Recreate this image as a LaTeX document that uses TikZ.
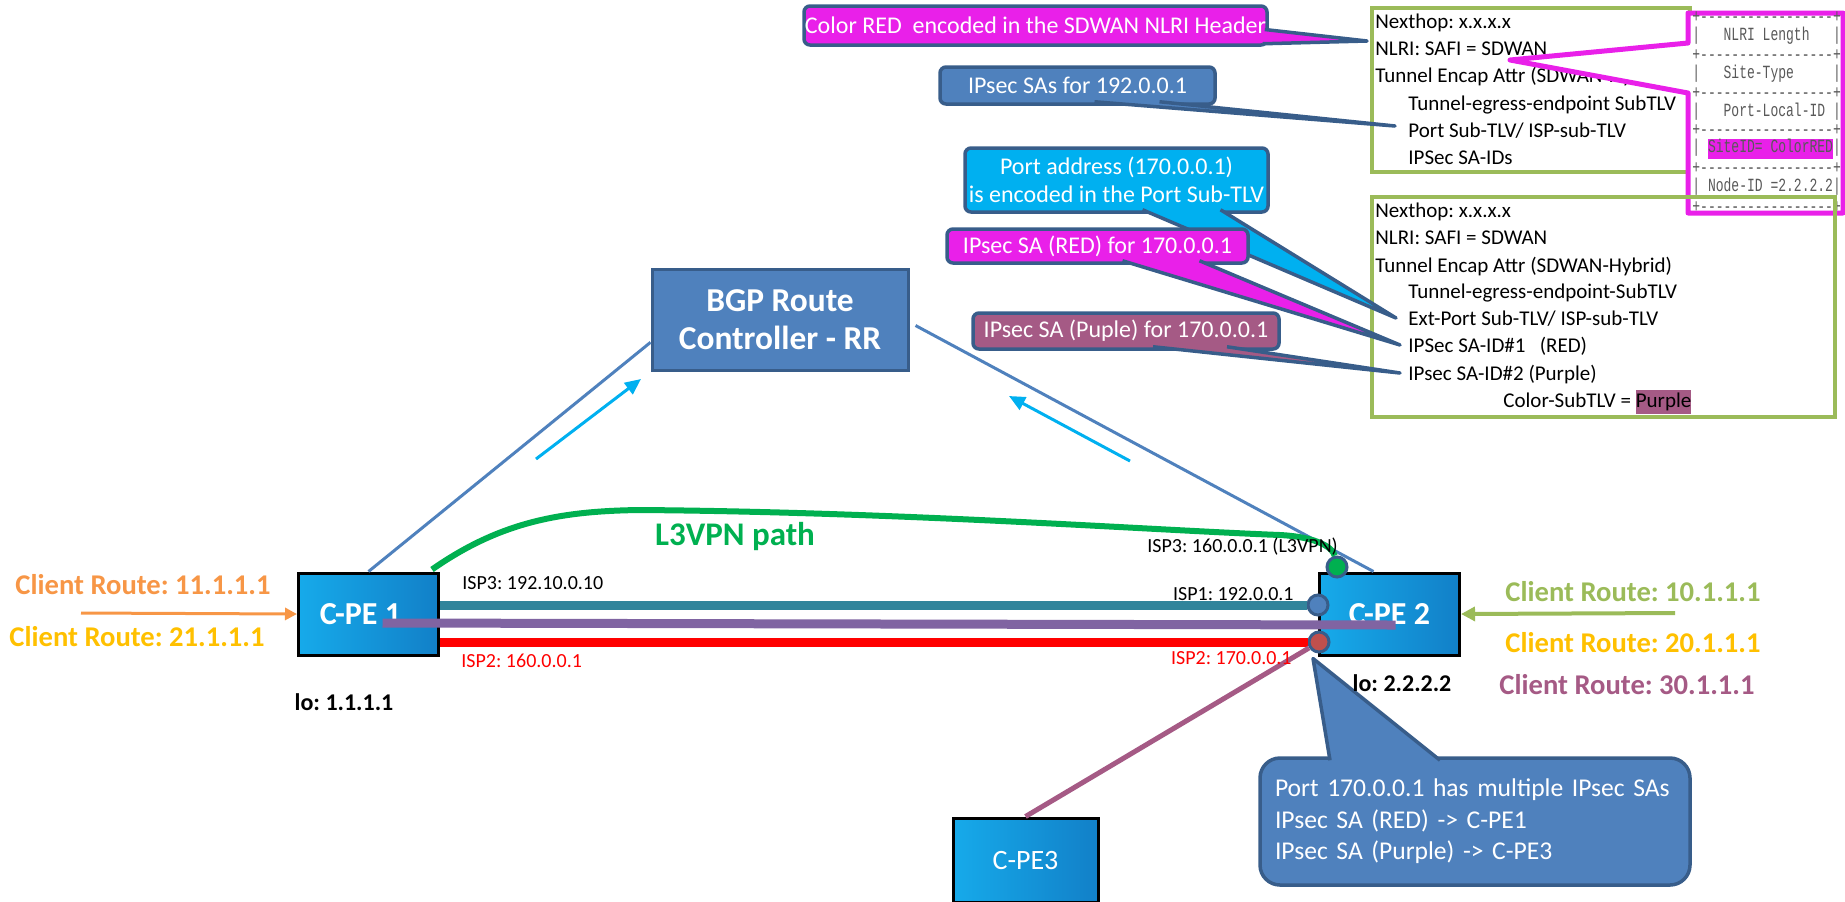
\documentclass[tikz,border=0pt]{standalone}
\usepackage{fontspec}
\setmainfont{Carlito}
\newfontfamily\tblfont[FakeStretch=0.7]{Liberation Mono}
\usetikzlibrary{arrows.meta,calc}
\frenchspacing

\definecolor{bgpblue}{RGB}{79,129,189}
\definecolor{bgpedge}{RGB}{56,93,138}
\definecolor{skyblue}{RGB}{0,176,240}
\definecolor{hotpink}{RGB}{233,32,233}
\definecolor{mauve}{RGB}{165,90,133}
\definecolor{lavender}{RGB}{128,100,162}
\definecolor{ispteal}{RGB}{49,132,155}
\definecolor{vpngreen}{RGB}{0,176,80}
\definecolor{leaf}{RGB}{155,187,89}
\definecolor{amber}{RGB}{255,192,0}
\definecolor{tangerine}{RGB}{247,150,70}
\definecolor{brick}{RGB}{192,80,77}
\definecolor{cpeleft}{RGB}{22,170,234}
\definecolor{cperight}{RGB}{18,128,200}
\definecolor{tblgray}{RGB}{89,89,89}

% highlighted word, no padding
\newcommand{\hilite}[2]{{\setlength{\fboxsep}{0pt}\colorbox{#1}{\strut#2}}}
% separator row of the NLRI header layout
\newcommand{\tblrule}{+-{}-{}-{}-{}-{}-{}-{}-{}-{}-{}-{}-{}-{}-{}-{}-{}-+}

\tikzset{
  cpe/.style={draw=black, line width=1.5pt, left color=cpeleft, right color=cperight,
    text=white, minimum width=70pt, minimum height=41pt, inner sep=0pt,
    font=\fontsize{16}{18}\selectfont\bfseries},
  callout/.style={draw=bgpedge, line width=1.75pt, rounded corners=3pt, text=white,
    inner sep=0pt, font=\fontsize{12}{14}\selectfont},
  tail/.style={draw=bgpedge, line width=1.75pt, line join=round},
  rec/.style={anchor=west, inner sep=0pt, text height=7pt, text depth=2pt,
    font=\fontsize{10.5}{12}\selectfont},
  tbl/.style={anchor=west, inner sep=0pt, text=tblgray,
    font={\tblfont\fontsize{9.3}{9.5}\selectfont}},
  isp/.style={inner sep=0pt, font=\fontsize{10}{12}\selectfont},
  route/.style={inner sep=0pt, font=\fontsize{14.3}{16}\selectfont\bfseries},
  loopback/.style={inner sep=0pt, font=\fontsize{12}{14}\selectfont\bfseries},
  port/.style={circle, draw=bgpedge, line width=1.5pt, minimum size=10pt, inner sep=0pt},
  trunk/.style={line width=4.5pt},
}

\begin{document}
\begin{tikzpicture}[x=0.5pt,y=-0.5pt]
\useasboundingbox (0,0) rectangle (1845,901);

% first SDWAN update
\draw[leaf,line width=2pt] (1372,8) rectangle (1690,172);
\node[rec] (nh1)   at (1375,23)  {Nexthop: x.x.x.x};
\node[rec] (nlri1) at (1375,50)  {NLRI: SAFI = SDWAN};
\node[rec] (tea1)  at (1375,77)  {Tunnel Encap Attr (SDWAN-Hybrid)};
\node[rec] (teg1)  at (1408,105) {Tunnel-egress-endpoint SubTLV};
\node[rec] (port1) at (1408,132) {Port Sub-TLV/ ISP-sub-TLV};
\node[rec] (said1) at (1408,159) {IPSec SA-IDs};

% NLRI header layout
\coordinate (hdrtip) at ($(nlri1.west)+(135,10)$);
\filldraw[hotpink,fill=white,line width=2.5pt,line join=round]
  (1688,13) -- (1843,13) -- (1843,213) -- (1688,213) -- (1688,93) -- (hdrtip) -- (1688,43) -- cycle;
\foreach \y/\row in {17/\tblrule, 36/{|~~~NLRI Length~~~|}, 55/\tblrule,
    74/{|~~~Site-Type~~~~~|}, 93/\tblrule, 112/{|~~~Port-Local-ID~|}, 130/\tblrule,
    149/{|~\hilite{hotpink}{SiteID= ColorRED}|}, 168/\tblrule,
    187/{|~Node-ID =2.2.2.2|}, 207/\tblrule}
  \node[tbl] at (1692,\y) {\row};

% second SDWAN update
\draw[leaf,line width=2pt] (1372,197) rectangle (1835,417);
\node[rec] (nh2)      at (1375,212) {Nexthop: x.x.x.x};
\node[rec] (nlri2)    at (1375,239) {NLRI: SAFI = SDWAN};
\node[rec] (tea2)     at (1375,267) {Tunnel Encap Attr (SDWAN-Hybrid)};
\node[rec] (teg2)     at (1408,293) {Tunnel-egress-endpoint-SubTLV};
\node[rec] (extport)  at (1408,320) {Ext-Port Sub-TLV/ ISP-sub-TLV};
\node[rec] (saone)    at (1408,347) {IPSec SA-ID\#1\ \ \ (RED)};
\node[rec] (satwo)    at (1408,375) {IPsec SA-ID\#2 (Purple)};
\node[rec] (colortlv) at (1503,402) {Color-SubTLV = \hilite{mauve}{Purple}};

% callouts
\node[callout,fill=hotpink,minimum width=231.5pt,minimum height=19.5pt] (colorred) at (1035.5,25.5)
  {Color RED \ encoded in the SDWAN NLRI Header};
\filldraw[tail,fill=hotpink] ($(colorred.east)+(-4,4)$) -- ($(nlri1.west)+(-8,-9)$) -- ($(colorred.south east)+(-6,-3)$);

\node[callout,fill=bgpblue,minimum width=137.5pt,minimum height=18.5pt] (sas) at (1077.5,85.5)
  {IPsec SAs for 192.0.0.1};
\filldraw[tail,fill=bgpblue] ($(sas.south)+(17,-4)$) -- ($(port1.west)+(-13,-6)$) -- ($(sas.south)+(82,-4)$);

\node[callout,fill=skyblue,minimum width=151.5pt,minimum height=32pt,align=center] (portaddr) at (1116.5,180)
  {Port address (170.0.0.1)\\is encoded in the Port Sub-TLV};
\filldraw[tail,fill=skyblue] ($(portaddr.south)+(26,-4)$) -- ($(extport.west)+(-12,-2)$) -- ($(portaddr.south)+(104,-4)$);

\node[callout,fill=hotpink,minimum width=150.5pt,minimum height=17pt] (sared) at (1097.5,246)
  {IPsec SA (RED) for 170.0.0.1};
\filldraw[tail,fill=hotpink] ($(sared.south)+(25,-4)$) -- ($(saone.west)+(-8,-2)$) -- ($(sared.south)+(102,-4)$);

\node[callout,fill=mauve,minimum width=153pt,minimum height=18pt] (sapurple) at (1126,331)
  {IPsec SA (Puple) for 170.0.0.1};
\filldraw[tail,fill=mauve] ($(sapurple.south)+(27,-4)$) -- ($(satwo.west)+(-8,-2)$) -- ($(sapurple.south)+(101,-4)$);

% routers and controller
\node[cpe] (cpe1) at (368.5,614) {\hspace*{-8pt}C-PE 1};
\node[cpe] (cpe2) at (1389.5,614) {C-PE 2};
\node[cpe,font=\fontsize{14}{16}\selectfont,minimum width=72.5pt,minimum height=42pt] (cpe3) at (1025.5,860) {C-PE3};
\node[port,fill=vpngreen] (gport) at (1337,567) {};
\node[port,fill=bgpblue]  (bport) at (1318,605) {};
\node[port,fill=brick]    (rport) at (1319,642) {};
\node[draw=bgpedge,fill=bgpblue,line width=1.5pt,minimum width=128pt,minimum height=50.5pt,
  text=white,align=center,font=\fontsize{16.7}{19}\selectfont\bfseries] (bgp) at (780,319.5)
  {BGP Route\\Controller - RR};

% BGP sessions
\draw[bgpblue,line width=1.5pt] (cpe1.north) -- (bgp.190);
\draw[bgpblue,line width=1.5pt] ([xshift=3pt,yshift=-3pt]bgp.east) -- ([xshift=-8pt]cpe2.north);
\coordinate (upl0) at (536,459);
\coordinate (upl1) at (641,379);
\coordinate (upr0) at (1130,461);
\coordinate (upr1) at (1009,396);
\draw[skyblue,line width=1.5pt,-{Triangle[length=8pt,width=7pt]}] (upl0) -- (upl1);
\draw[skyblue,line width=1.5pt,-{Triangle[length=8pt,width=7pt]}] (upr0) -- (upr1);

% L3VPN path
\draw[vpngreen,line width=3pt] ($(cpe1.north east)+(-8,-2)$) .. controls (500,522) and (560,511) .. (640,510)
  .. controls (900,512) and (1150,530) .. (1280,535) .. controls (1318,537) and (1333,548) .. (gport);

% ISP links
\draw[ispteal,trunk] (cpe1.east |- bport) -- (bport);
\draw[red,trunk] (cpe1.east |- rport) -- (rport);
\draw[lavender,trunk] ($(cpe1.center)+(14,9)$) -- ($(cpe2.center)+(6,11)$);
\draw[mauve,line width=2.5pt] (cpe3.north) -- (rport);

% client routes
\coordinate (feed1) at (81,613);
\coordinate (feed2) at (1675,613);
\draw[tangerine,line width=1.5pt,-{Triangle[length=6pt,width=6pt]}] (feed1) -- (cpe1.west);
\draw[leaf,line width=2pt,-{Triangle[length=7pt,width=7pt]}] (feed2) -- (cpe2.east);
\node[route,text=tangerine] (cr11) at (143,585)  {Client Route: 11.1.1.1};
\node[route,text=amber]     (cr21) at (137,637)  {Client Route: 21.1.1.1};
\node[route,text=leaf]      (cr10) at (1633,592) {Client Route: 10.1.1.1};
\node[route,text=amber]     (cr20) at (1633,643) {Client Route: 20.1.1.1};
\node[route,text=mauve]     (cr30) at (1627,685) {Client Route: 30.1.1.1};
\node[loopback] (lo1) at (344,702)  {lo: 1.1.1.1};

% port addresses
\node[isp,anchor=west]          (isp3a) at (462,583)  {ISP3: 192.10.0.10};
\node[isp,anchor=west,text=red] (isp2a) at (461,661)  {ISP2: 160.0.0.1};
\node[isp,anchor=east]          (isp1b) at (1294,594) {ISP1: 192.0.0.1};
\node[isp,anchor=east,text=red] (isp2b) at (1292,658) {ISP2: 170.0.0.1};
\node[isp,anchor=west]          (isp3b) at (1147,547) {ISP3: 160.0.0.1 (L3VPN)};
\node[text=vpngreen,font=\fontsize{16.5}{18}\selectfont\bfseries] (vpnlbl) at (735,537) {L3VPN path};

% SA note on port 170.0.0.1
\node[callout,fill=bgpblue,rounded corners=10pt,minimum height=63.5pt,text width=200pt,inner xsep=7.5pt,
  align=left,font=\fontsize{12.8}{15.75}\selectfont] (note) at (1475,821.5)
  {Port 170.0.0.1 has multiple IPsec SAs\\IPsec SA (RED) -> C-PE1\\IPsec SA (Purple) -> C-PE3};
\filldraw[tail,fill=bgpblue] ($(note.north)+(-145,4)$) -- ($(rport.south)+(-6,5)$) -- ($(note.north)+(-35,4)$);
\node[loopback] (lo2) at (1402,683) {lo: 2.2.2.2};

\end{tikzpicture}
\end{document}
